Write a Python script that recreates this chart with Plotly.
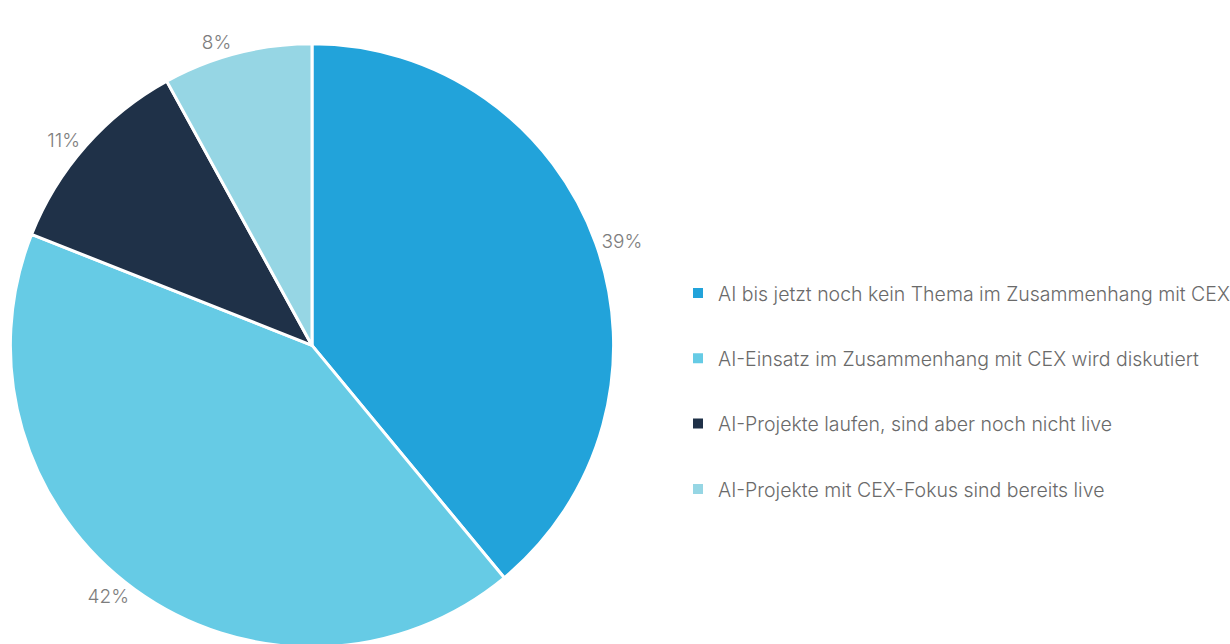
import plotly.graph_objects as go

# Survey answers and their shares (percent)
categories = [
    "AI bis jetzt noch kein Thema im Zusammenhang mit CEX",
    "AI-Einsatz im Zusammenhang mit CEX wird diskutiert",
    "AI-Projekte laufen, sind aber noch nicht live",
    "AI-Projekte mit CEX-Fokus sind bereits live",
]
shares = [39, 42, 11, 8]
colors = ["#22a3da", "#66cbe5", "#1f3148", "#96d6e4"]

# Canvas a little larger than the viewport so the legend never forces a margin
W, H = 1270, 652
FONT = "Inter"

fig = go.Figure()

fig.add_trace(go.Pie(
    labels=categories,
    values=shares,
    sort=False,
    direction="clockwise",
    rotation=0,
    marker=dict(colors=colors, line=dict(color="white", width=3)),
    texttemplate="%{value}%",
    textposition="outside",
    outsidetextfont=dict(family=FONT, size=19, color="#7d7d7d", weight=300),
    hoverinfo="label+percent",
    showlegend=False,
    domain=dict(x=[9 / W, 615 / W], y=[1 - 650 / H, 1 - 44 / H]),
))

# Legend entries, one group each so they can be spaced apart
for name, col in zip(categories, colors):
    fig.add_trace(go.Scatter(
        x=[None], y=[None], mode="markers", name=name,
        legendgroup=name,
        marker=dict(symbol="square", size=10, color=col),
    ))

fig.update_layout(
    width=W, height=H,
    margin=dict(l=0, r=0, t=0, b=0),
    paper_bgcolor="white", plot_bgcolor="white",
    xaxis=dict(visible=False), yaxis=dict(visible=False),
    legend=dict(
        x=678 / W, xanchor="left",
        y=1 - 275 / H, yanchor="top",
        font=dict(family=FONT, size=19.5, color="#6a6a6a", weight=300),
        tracegroupgap=37,
        bgcolor="rgba(0,0,0,0)",
        itemclick=False, itemdoubleclick=False,
    ),
)

fig.write_html("out.html", post_script="document.body.style.overflow='hidden';")
